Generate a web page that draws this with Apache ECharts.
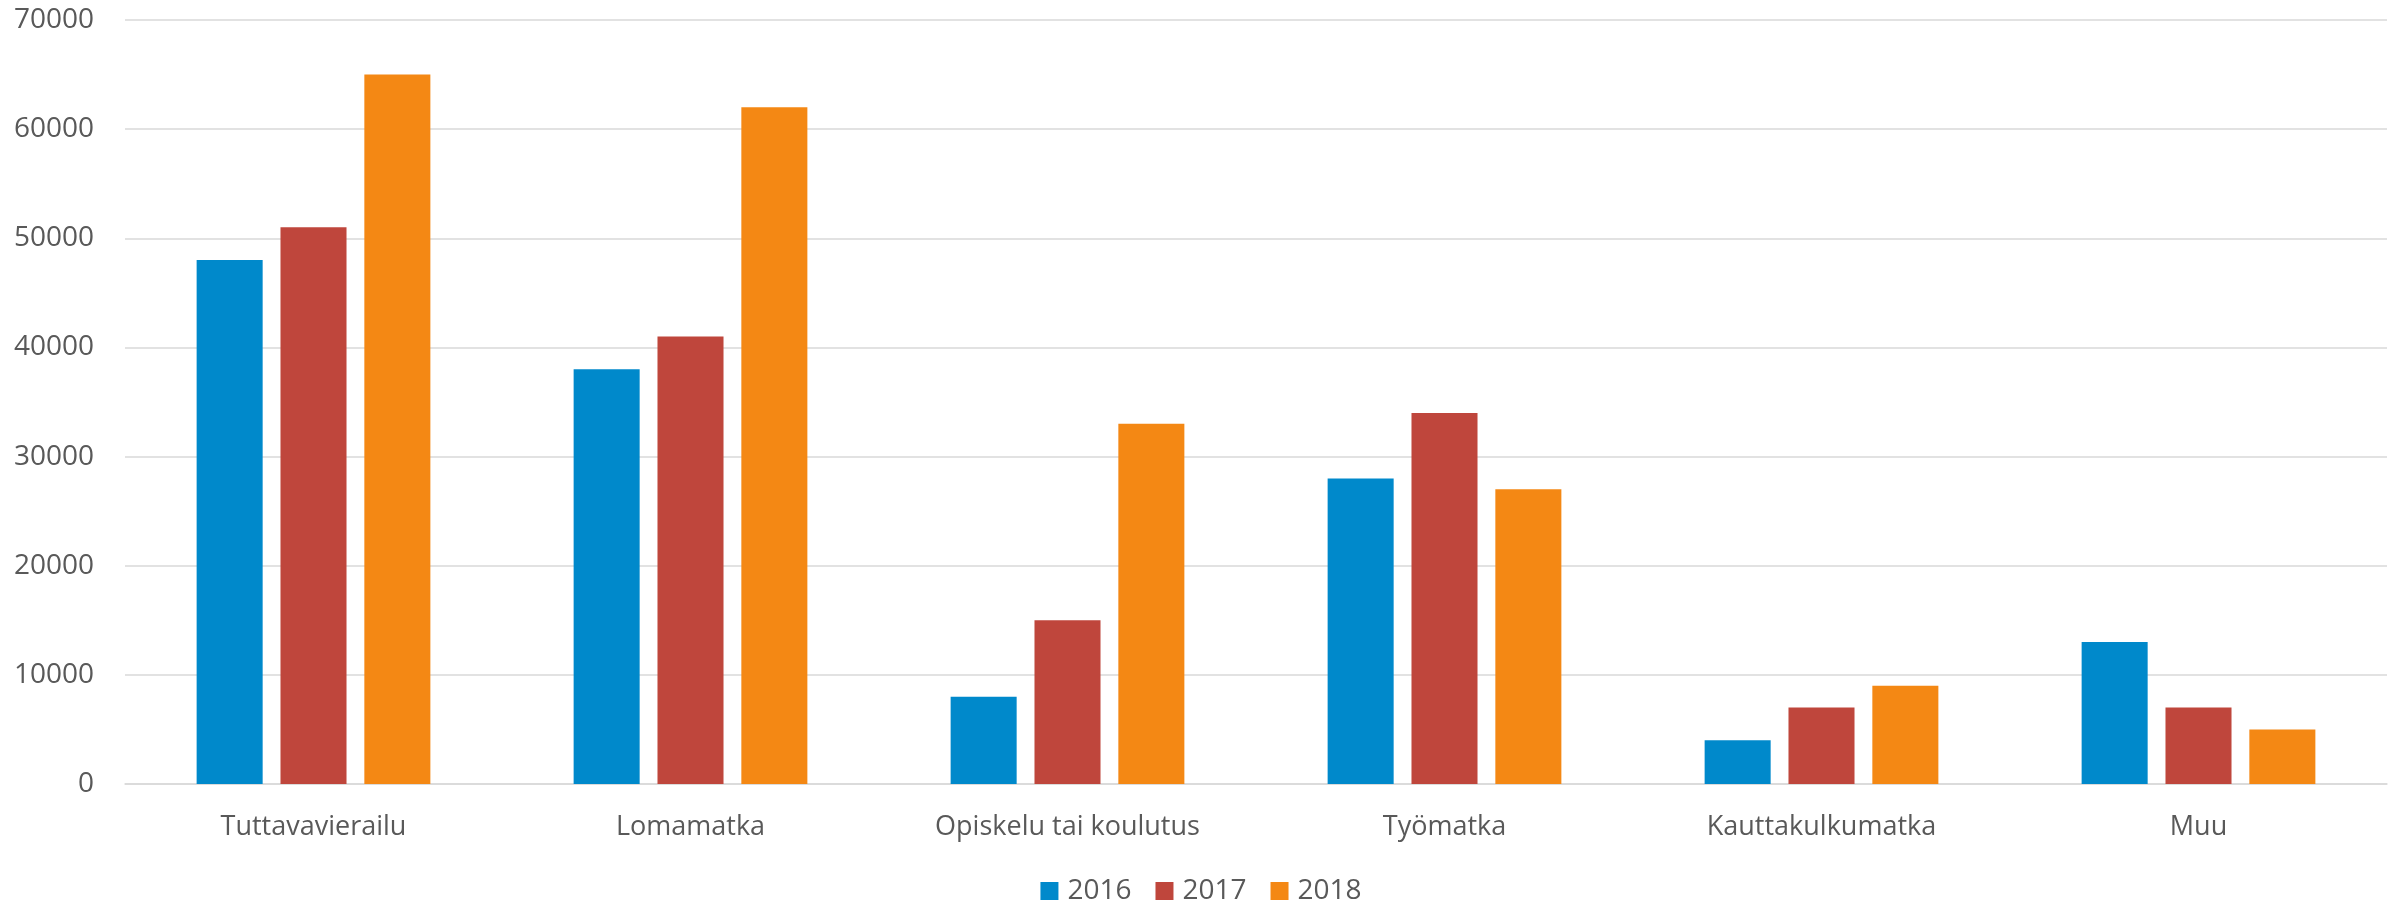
<!DOCTYPE html>
<html>
<head>
<meta charset="utf-8">
<script src="https://cdn.jsdelivr.net/npm/echarts@6/dist/echarts.min.js"></script>
<style>
html,body{margin:0;padding:0;background:#fff;}
#chart{width:2402px;height:902px;}
</style>
</head>
<body>
<div id="chart"></div>
<script>
const categories = ["Tuttavavierailu", "Lomamatka", "Opiskelu tai koulutus", "Työmatka", "Kauttakulkumatka", "Muu"];
const seriesNames = ["2016", "2017", "2018"];
const values2016 = [48000, 38000, 8000, 28000, 4000, 13000];
const values2017 = [51000, 41000, 15000, 34000, 7000, 7000];
const values2018 = [65000, 62000, 33000, 27000, 9000, 5000];
const yTicks = [0, 10000, 20000, 30000, 40000, 50000, 60000, 70000];

const colors = ["#0089CB", "#BF463C", "#F48814"];
const font = "'Open Sans', 'Noto Sans', sans-serif";
const textColor = "#595959";

const chart = echarts.init(document.getElementById('chart'), null, {renderer: 'canvas'});
const dataSets = [values2016, values2017, values2018];
chart.setOption({
  animation: false,
  backgroundColor: '#ffffff',
  color: colors,
  grid: {left: 125, right: 15, top: 20, bottom: 118, containLabel: false},
  legend: {
    data: seriesNames,
    top: 872,
    left: 'center',
    itemWidth: 18,
    itemHeight: 18,
    itemGap: 24,
    icon: 'rect',
    textStyle: {color: textColor, fontSize: 28, fontFamily: font, padding: [0, 0, 0, 4]}
  },
  xAxis: {
    type: 'category',
    data: categories,
    axisLine: {show: true, lineStyle: {color: '#d9d9d9', width: 1.5}},
    axisTick: {show: false},
    axisLabel: {color: textColor, fontSize: 27, fontFamily: font, margin: 30}
  },
  yAxis: {
    type: 'value',
    min: yTicks[0],
    max: yTicks[yTicks.length - 1],
    interval: yTicks[1] - yTicks[0],
    axisLine: {show: false},
    axisTick: {show: false},
    splitLine: {lineStyle: {color: '#d9d9d9', width: 1.5}},
    axisLabel: {color: textColor, fontSize: 28, fontFamily: font, margin: 31, formatter: v => String(v)}
  },
  series: seriesNames.map((name, i) => ({
    name: name,
    type: 'bar',
    data: dataSets[i],
    barGap: '27%',
    barCategoryGap: '38%',
    itemStyle: {color: colors[i]}
  }))
});
</script>
</body>
</html>
